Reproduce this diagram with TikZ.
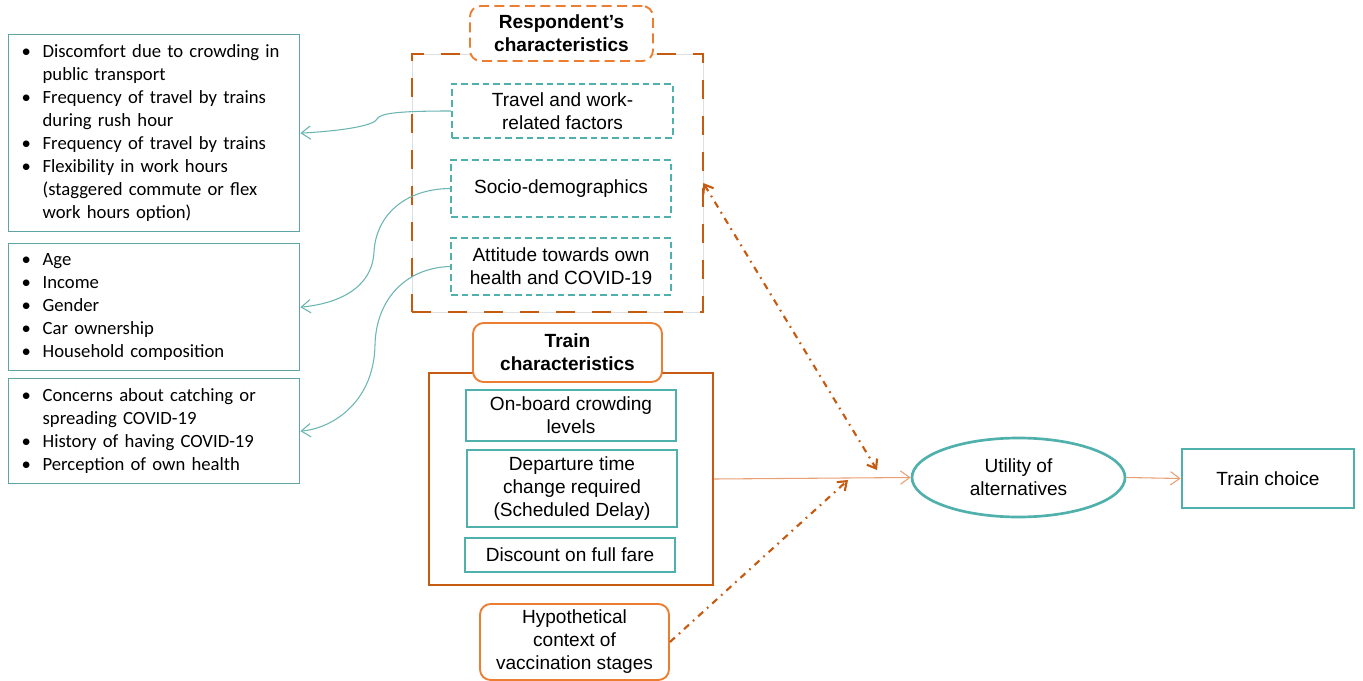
\documentclass[tikz,border=0pt]{standalone}
\usepackage{fontspec}
\setmainfont{Liberation Sans}
\newfontfamily\calfont{Carlito}
\usetikzlibrary{arrows.meta,shapes.geometric}

\definecolor{rust}{HTML}{C55A11}
\definecolor{tangerine}{HTML}{ED7D31}
\definecolor{peachline}{HTML}{E8A074}
\definecolor{boxteal}{HTML}{4FB0AC}
\definecolor{listteal}{HTML}{5FA3A3}
\definecolor{linkteal}{HTML}{6BB5B2}

% bullet and hanging indent for the list boxes
\newcommand\bl{\makebox[15.75pt][l]{\textbullet}}
\newcommand\ct{\hspace*{15.75pt}}

\tikzset{
  x=0.75pt, y=-0.75pt,
  sz/.style 2 args={inner sep=0pt, minimum width={#1*0.75pt}, minimum height={#2*0.75pt}},
  txt/.style={font=\fontsize{14.3}{17.25}\selectfont, align=center},
  btxt/.style={font=\bfseries\fontsize{14.3}{17.25}\selectfont, align=center},
  dashteal/.style={draw=boxteal, line width=1.7pt, dash pattern=on 5pt off 3pt},
  solidteal/.style={draw=boxteal, line width=1.7pt},
  listbox/.style={draw=listteal, line width=1pt, anchor=north west, align=left,
    inner xsep=9.75pt, inner ysep=0pt, text width=198.75pt,
    minimum width=218.25pt,
    font=\calfont\fontsize{14}{17.25}\selectfont},
  lbl/.style={rounded corners=8pt, fill=white, draw=tangerine, line width=1.4pt},
  link/.style={draw=linkteal, line width=0.8pt, -{Straight Barb[length=7pt,width=10pt]}},
  flow/.style={draw=peachline, line width=0.8pt, -{Straight Barb[length=7pt,width=10pt]}},
  dashdot/.style={draw=rust, line width=1.6pt, dash pattern=on 5pt off 4pt on 1.3pt off 4pt},
}

\begin{document}
\begin{tikzpicture}
\useasboundingbox (0,0) rectangle (1363,681);

% ---- explanatory lists on the left
\node[listbox, minimum height=147.75pt] (l1) at (8,34) {%
\bl Discomfort due to crowding in\\
\ct public transport\\
\bl Frequency of travel by trains\\
\ct during rush hour\\
\bl Frequency of travel by trains\\
\bl Flexibility in work hours\\
\ct (staggered commute or flex\\
\ct work hours option)};
\node[listbox, minimum height=95.25pt] (l2) at (8,243) {%
\bl Age\\
\bl Income\\
\bl Gender\\
\bl Car ownership\\
\bl Household composition};
\node[listbox, minimum height=78.75pt] (l3) at (8,378) {%
\bl Concerns about catching or\\
\ct spreading COVID-19\\
\bl History of having COVID-19\\
\bl Perception of own health};

% ---- respondent's characteristics group
\node[sz={291}{258}, draw=gray!25, line width=0.5pt,
  postaction={draw=rust, line width=2pt, dash pattern=on 14pt off 13pt}] (resp) at (557.5,183) {};
\node[lbl, sz={183}{55}, dash pattern=on 7.5pt off 4pt, btxt] (resplbl) at (561.5,33.5)
  {Respondent’s\\characteristics};
\node[dashteal, sz={221}{54}, txt] (travel) at (562.5,111)
  {Travel and work-\\related factors};
\node[dashteal, sz={220}{57}, txt] (socio) at (561,188.5)
  {Socio-demographics};
\node[dashteal, sz={220}{57}, txt] (attit) at (561,266.5)
  {Attitude towards own\\health and COVID-19};

% ---- train characteristics group
\node[sz={284}{212}, draw=rust, line width=1.8pt] (train) at (571,479) {};
\node[lbl, sz={189}{59}, btxt] (trainlbl) at (567.5,352.5)
  {Train\\characteristics};
\node[solidteal, sz={210}{51}, txt] (crowd) at (571,415.5)
  {On-board crowding\\levels};
\node[solidteal, sz={210}{77}, txt] (depart) at (572,488.5)
  {Departure time\\change required\\(Scheduled Delay)};
\node[solidteal, sz={210}{34}, txt] (disc) at (570,555)
  {Discount on full fare};

% ---- context, utility and choice
\node[lbl, sz={189}{76}, txt] (hyp) at (574.5,642)
  {Hypothetical\\context of\\vaccination stages};
\node[ellipse, draw=boxteal, line width=2pt, sz={213}{79}, txt] (util) at (1018.5,477.5)
  {Utility of\\alternatives};
\node[solidteal, line width=2pt, sz={172}{59}, txt] (choice) at (1268,478.5)
  {Train choice};

% ---- connectors
\draw[link] (travel.west) .. controls (400,111) and (380,113) .. (377,119)
  .. controls (374,126) and (340,131) .. (l1.east);
\draw[link] (socio.west) .. controls (405,189) and (376,215) .. (374,252)
  .. controls (372,290) and (335,304) .. (l2.east);
\draw[link] (attit.west) .. controls (405,268) and (376,300) .. (375,345)
  .. controls (374,400) and (335,428) .. (l3.east);

\draw[flow] (train.east) -- (util.west);
\draw[flow] (util.east) -- (choice.west);

\coordinate (uin) at (877,470);
\coordinate (hin) at (848,480);
\draw[dashdot, {Straight Barb[length=6pt,width=9pt]}-{Straight Barb[length=6pt,width=9pt]}]
  (resp.east) -- (uin);
\draw[dashdot, -{Straight Barb[length=6pt,width=9pt]}] (hyp.east) -- (hin);
\end{tikzpicture}
\end{document}
